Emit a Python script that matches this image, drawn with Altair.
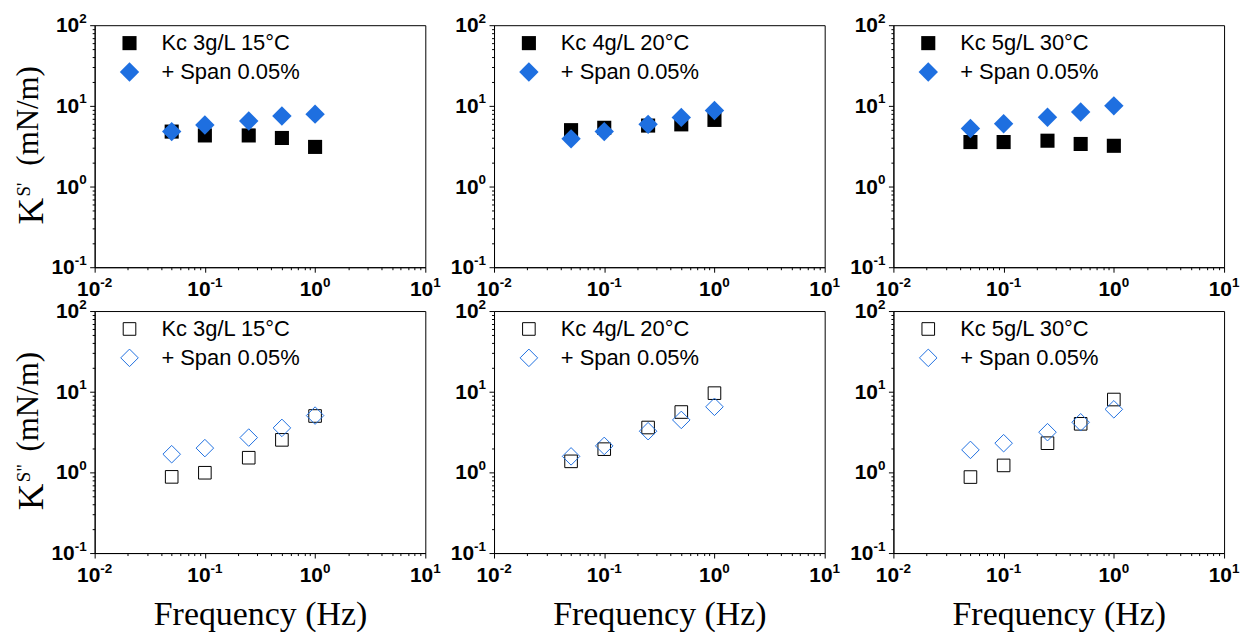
import altair as alt
import pandas as pd

# ---------------- data ----------------
freq = [0.05, 0.1, 0.25, 0.5, 1.0]
conditions = ["Kc 3g/L 15°C", "Kc 4g/L 20°C", "Kc 5g/L 30°C"]
span_label = "+ Span 0.05%"

storage_kc = [
    [4.8, 4.3, 4.3, 4.0, 3.1],
    [5.0, 5.35, 5.7, 5.9, 6.7],
    [3.56, 3.56, 3.7, 3.37, 3.2],
]
storage_span = [
    [4.8, 5.8, 6.5, 7.5, 7.9],
    [3.9, 4.8, 5.9, 7.2, 8.75],
    [5.25, 6.0, 7.24, 8.4, 10.0],
]
loss_kc = [
    [0.88, 0.99, 1.52, 2.53, 5.0],
    [1.37, 1.94, 3.6, 5.6, 9.6],
    [0.875, 1.22, 2.3, 4.0, 8.0],
]
loss_span = [
    [1.68, 2.0, 2.7, 3.56, 5.06],
    [1.58, 2.13, 3.24, 4.47, 6.5],
    [1.9, 2.3, 3.15, 4.18, 6.05],
]

x_decades = [0.01, 0.1, 1, 10]
x_exponents = ["-2", "-1", "0", "1"]
y_decades = [0.1, 1, 10, 100]
y_exponents = ["-1", "0", "1", "2"]
y_title_sup = ["S'", 'S"']
y_title_unit = "(mN/m)"
x_title = "Frequency (Hz)"

# ---------------- style ----------------
BLUE = "#1E6FE0"
W, H = 332, 243
SANS = "Liberation Sans"
SERIF = "Liberation Serif"


def minor_values(decs):
    vals = []
    for d in decs[:-1]:
        for k in range(2, 10):
            vals.append(round(d * k, 6))
    return vals


x_minor = minor_values(x_decades)
y_minor = minor_values(y_decades)

xscale = alt.Scale(type="log", domain=[0.01, 10], nice=False)
yscale = alt.Scale(type="log", domain=[0.1, 100], nice=False)


def x_major_axis(title):
    kw = dict(orient="bottom", values=x_decades, labels=False, tickSize=5,
              tickColor="black", domainColor="black", grid=False)
    if title:
        kw.update(title=title, titleFont=SERIF, titleFontSize=34,
                  titleFontWeight="normal", titleBaseline="alphabetic",
                  titleY=72, titleColor="black")
    else:
        kw.update(title=None)
    return alt.Axis(**kw)


y_major_axis = alt.Axis(orient="left", values=y_decades, labels=False, tickSize=5,
                        tickColor="black", domainColor="black", grid=False, title=None)
x_minor_axis = alt.Axis(orient="bottom", values=x_minor, labels=False, tickSize=2.5,
                        tickColor="black", domain=False, grid=False, title=None)
y_minor_axis = alt.Axis(orient="left", values=y_minor, labels=False, tickSize=2.5,
                        tickColor="black", domain=False, grid=False, title=None)

MAIN_FS = 21
EXP_FS = 13.5
W10 = 2 * 0.556 * MAIN_FS
WNEG = 0.889 * EXP_FS
WPOS = 0.556 * EXP_FS


def x_labels():
    d = pd.DataFrame({"v": x_decades, "e": x_exponents})
    out = []
    for filt, we in (("datum.v < 1", WNEG), ("datum.v >= 1", WPOS)):
        dx = (W10 - we) / 2
        base = alt.Chart(d).transform_filter(filt).encode(
            x=alt.X("v:Q", scale=xscale, axis=None))
        out.append(base.mark_text(font=SANS, fontSize=MAIN_FS, fontWeight="bold", align="right",
                                  baseline="alphabetic", dx=dx, color="black")
                   .encode(y=alt.value(H + 29), text=alt.value("10")))
        out.append(base.mark_text(font=SANS, fontSize=EXP_FS, fontWeight="bold", align="left",
                                  baseline="alphabetic", dx=dx, color="black")
                   .encode(y=alt.value(H + 20), text="e:N"))
    return out


def y_labels():
    d = pd.DataFrame({"v": y_decades, "e": y_exponents})
    out = []
    for filt, we in (("datum.v < 1", WNEG), ("datum.v >= 1", WPOS)):
        base = alt.Chart(d).transform_filter(filt).encode(
            y=alt.Y("v:Q", scale=yscale, axis=None))
        out.append(base.mark_text(font=SANS, fontSize=MAIN_FS, fontWeight="bold", align="right",
                                  baseline="middle", dy=1, color="black")
                   .encode(x=alt.value(-8 - we), text=alt.value("10")))
        out.append(base.mark_text(font=SANS, fontSize=EXP_FS, fontWeight="bold", align="right",
                                  baseline="middle", dy=-6.5, color="black")
                   .encode(x=alt.value(-8), text="e:N"))
    return out


def y_title(sup):
    d = pd.DataFrame({"k": ["K"], "s": [sup], "u": [y_title_unit]})
    base = alt.Chart(d)
    k = base.mark_text(font=SERIF, fontSize=37, angle=270, align="left",
                       baseline="alphabetic", color="black").encode(
        x=alt.value(-52), y=alt.value(200), text="k:N")
    s = base.mark_text(font=SERIF, fontSize=19, angle=270, align="left",
                       baseline="alphabetic", color="black").encode(
        x=alt.value(-65), y=alt.value(172), text="s:N")
    u = base.mark_text(font=SERIF, fontSize=31, angle=270, align="left",
                       baseline="alphabetic", color="black").encode(
        x=alt.value(-57), y=alt.value(141), text="u:N")
    return [k, s, u]


def panel(col, row):
    kc = storage_kc[col] if row == 0 else loss_kc[col]
    sp = storage_span[col] if row == 0 else loss_span[col]
    df = pd.DataFrame({
        "freq": freq + freq,
        "value": kc + sp,
        "series": [conditions[col]] * len(freq) + [span_label] * len(freq),
    })
    domain = [conditions[col], span_label]
    sizes = [200, 380] if row == 0 else [160, 310]
    legend = alt.Legend(title=None, orient="none", legendX=24, legendY=7,
                        labelFont=SANS, labelFontSize=22, labelColor="black",
                        labelOffset=21, rowPadding=7, padding=0,
                        symbolStrokeWidth=1, labelLimit=400)
    ghost = alt.Chart(df).mark_point(opacity=0).encode(
        x=alt.X("freq:Q", scale=xscale, axis=x_minor_axis),
        y=alt.Y("value:Q", scale=yscale, axis=y_minor_axis),
    )
    pts = alt.Chart(df).mark_point(filled=(row == 0), opacity=1, strokeWidth=1).encode(
        x=alt.X("freq:Q", scale=xscale, axis=x_major_axis(x_title if row == 1 else None)),
        y=alt.Y("value:Q", scale=yscale, axis=y_major_axis),
        color=alt.Color("series:N", scale=alt.Scale(domain=domain, range=["#000000", BLUE]),
                        legend=legend),
        shape=alt.Shape("series:N", scale=alt.Scale(domain=domain, range=["square", "diamond"]),
                        legend=legend),
        size=alt.Size("series:N", scale=alt.Scale(domain=domain, range=sizes), legend=legend),
    )
    layers = [ghost, pts] + x_labels() + y_labels()
    if col == 0:
        layers += y_title(y_title_sup[row])
    return alt.layer(*layers).resolve_axis(x="independent", y="independent").properties(
        width=W, height=H)


panels = [panel(c, r) for r in range(2) for c in range(3)]

chart = (
    alt.concat(*panels, columns=3)
    .resolve_scale(color="independent", shape="independent", size="independent",
                   x="independent", y="independent")
    .properties(bounds="flush", spacing={"row": 44, "column": 69},
                padding={"left": 4, "top": 2, "right": 0, "bottom": 0})
    .configure_view(stroke="black", strokeWidth=1)
)

chart.save("out.html", embed_options={"renderer": "svg", "actions": False})
